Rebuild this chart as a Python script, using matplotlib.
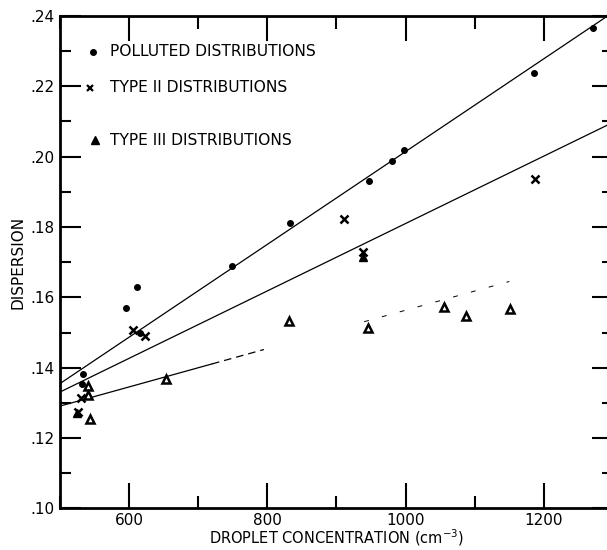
import matplotlib
matplotlib.use("Agg")
import matplotlib.pyplot as plt
import numpy as np
from matplotlib.ticker import MultipleLocator, FuncFormatter

# ---- data ----
polluted_x = [532, 534, 596, 611, 616, 749, 833, 947, 980, 997, 1186, 1271]
polluted_y = [0.1355, 0.1383, 0.1570, 0.1629, 0.1500, 0.1690, 0.1811, 0.1930, 0.1989, 0.2019, 0.2239, 0.2367]

type2_x = [526, 530, 606, 623, 911, 938, 1187]
type2_y = [0.1275, 0.1313, 0.1508, 0.1489, 0.1823, 0.1730, 0.1937]

type3_open_x = [541, 541, 544, 654, 831, 946, 1055, 1087, 1151]
type3_open_y = [0.1347, 0.1322, 0.1253, 0.1367, 0.1533, 0.1514, 0.1574, 0.1546, 0.1566]
type3_filled_x = [525, 938]
type3_filled_y = [0.1270, 0.1716]

# fitted lines: intercept at x=500 and slope
polluted_fit = (0.1355, 1.319e-4)
type2_fit = (0.1331, 9.58e-5)
type3_fit = (0.1291, 5.45e-5)

legend_labels = ["POLLUTED DISTRIBUTIONS", "TYPE II DISTRIBUTIONS", "TYPE III DISTRIBUTIONS"]
x_label = "DROPLET CONCENTRATION (cm$^{-3}$)"
y_label = "DISPERSION"

plt.rcParams['font.family'] = ['DejaVu Sans']

fig = plt.figure(figsize=(6.07, 5.5), dpi=100)
ax = fig.add_axes([0.0988, 0.0755, 0.911, 0.8955])

x0, x1 = 500, 1300
ax.set_xlim(x0, x1)
ax.set_ylim(0.10, 0.24)


def fit(p, xs):
    xs = np.asarray(xs, dtype=float)
    return p[0] + p[1] * (xs - 500)


xs_full = np.array([x0, x1])
ax.plot(xs_full, fit(polluted_fit, xs_full), color='black', lw=0.9, zorder=2)
ax.plot(xs_full, fit(type2_fit, xs_full), color='black', lw=0.9, zorder=2)
seg_a = np.array([x0, 720])
seg_b = np.array([720, 795])
seg_c = np.array([940, 1150])
ax.plot(seg_a, fit(type3_fit, seg_a), color='black', lw=0.9, zorder=2)
ax.plot(seg_b, fit(type3_fit, seg_b), color='black', lw=0.9, zorder=2, dashes=(6, 4))
ax.plot(seg_c, fit(type3_fit, seg_c), color='black', lw=0.7, zorder=2, dashes=(5, 14))

ax.plot(polluted_x, polluted_y, 'o', color='black', ms=4, zorder=3)
ax.plot(type2_x, type2_y, 'x', color='black', ms=6, mew=1.8, zorder=3)
ax.plot(type3_open_x, type3_open_y, '^', mfc='white', mec='black', ms=6, mew=1.8, zorder=3)
ax.plot(type3_filled_x, type3_filled_y, '^', color='black', ms=6, zorder=3)

# legend (drawn as text with symbol samples)
leg_y = [0.927, 0.854, 0.748]
ax.plot([0.060], [leg_y[0]], 'o', color='black', ms=4, transform=ax.transAxes, clip_on=False)
ax.plot([0.055], [leg_y[1]], 'x', color='black', ms=5, mew=1.6, transform=ax.transAxes, clip_on=False)
ax.plot([0.063], [leg_y[2]], '^', color='black', ms=6, transform=ax.transAxes, clip_on=False)
for yy, lab in zip(leg_y, legend_labels):
    ax.text(0.090, yy, lab, transform=ax.transAxes, fontsize=11.2, va='center', ha='left')

# ticks
ax.xaxis.set_major_locator(MultipleLocator(200))
ax.xaxis.set_minor_locator(MultipleLocator(100))
ax.yaxis.set_major_locator(MultipleLocator(0.02))
ax.yaxis.set_minor_locator(MultipleLocator(0.01))
ax.yaxis.set_major_formatter(FuncFormatter(lambda v, p: ("%.2f" % v).lstrip('0')))
ax.tick_params(which='major', direction='in', length=15, width=1.5, top=True, right=True,
               labelsize=11, pad=4)
ax.tick_params(which='minor', direction='in', length=8, width=1.5, top=True, right=True)
ax.tick_params(axis='x', which='major', length=18, pad=3)
ax.tick_params(axis='x', which='minor', length=9)

for s in ax.spines.values():
    s.set_linewidth(2)

ax.set_xlabel(x_label, fontsize=10.5, labelpad=0)
ax.set_ylabel(y_label, fontsize=11, labelpad=3)

fig.savefig("out.png", dpi=100)
